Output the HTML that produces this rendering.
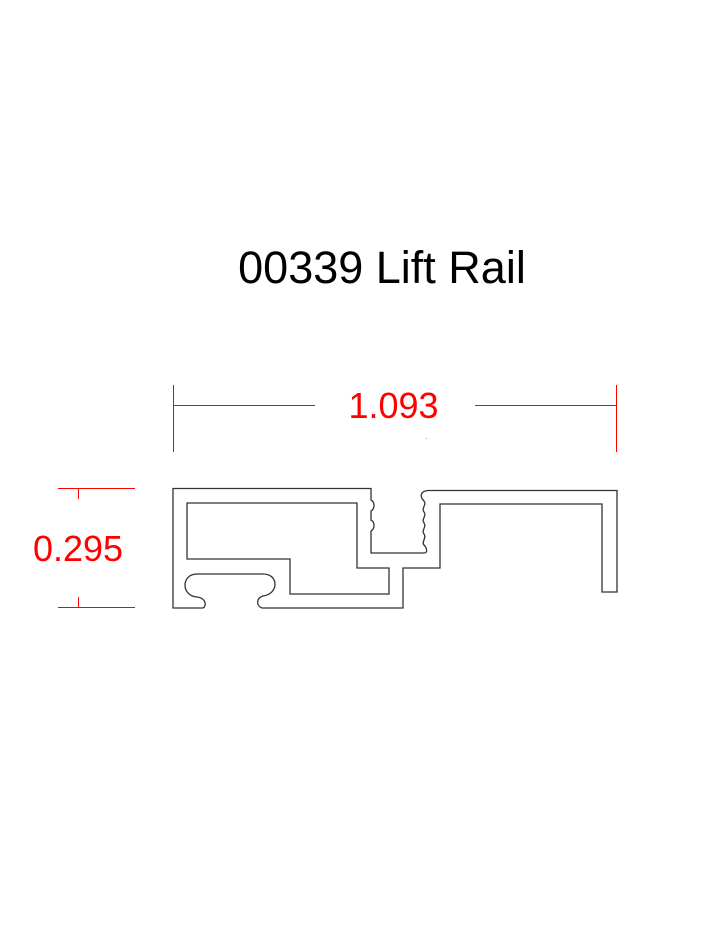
<!DOCTYPE html>
<html><head><style>
html,body{margin:0;padding:0;background:#fff;}
svg{display:block}
</style></head><body>
<svg width="716" height="927" viewBox="0 0 716 927" xmlns="http://www.w3.org/2000/svg">
<text x="382" y="283" font-family="Liberation Sans, Arial, sans-serif" font-size="45" text-anchor="middle" fill="#000">00339 Lift Rail</text>
<g stroke="#f00" stroke-width="1" fill="none">
<line x1="173" y1="405.5" x2="315" y2="405.5"/>
<line x1="475" y1="405.5" x2="617" y2="405.5"/>
<line x1="173.5" y1="385" x2="173.5" y2="452"/>
<line x1="616.5" y1="385" x2="616.5" y2="452"/>
<line x1="58" y1="488.5" x2="135" y2="488.5"/>
<line x1="58" y1="607.5" x2="135" y2="607.5"/>
<line x1="78.5" y1="488" x2="78.5" y2="499"/>
<line x1="78.5" y1="597" x2="78.5" y2="608"/>
</g>
<text x="393.5" y="418" font-family="Liberation Sans, Arial, sans-serif" font-size="36" text-anchor="middle" fill="#f00">1.093</text>
<text x="78" y="561" font-family="Liberation Sans, Arial, sans-serif" font-size="36" text-anchor="middle" fill="#f00">0.295</text>
<g stroke="#333" stroke-width="1.3" fill="none" stroke-linejoin="miter">
<path d="M173 488.5 L371 488.5 L371 500 C375 502,375 509,371 511 L371 520 C375 522,375 529,371 531 L371 553 L424 553 C428 553,427 548,424 545 C421 542,427 538,424 534 C421 530,427 527,424 523 C421 519,427 516,424 512 C421 508,427 505,424 501 C419 496,421 491,428 490.5 L617 490.5 L617 592 L602 592 L602 504 L440 504 L440 568 L403 568 L403 608 L262 608 C256 606,256 598,263 596 C279 594,279 574,263 574 L197 574 C181 574,181 596,197 597 C206 598,207 606,203 608 L173 608 Z"/>
<path d="M187 503 L357 503 L357 568 L389 568 L389 594 L290 594 L290 559 L187 559 Z"/>
</g>
<rect x="426" y="438" width="1" height="1" fill="#999"/>
</svg>
</body></html>
